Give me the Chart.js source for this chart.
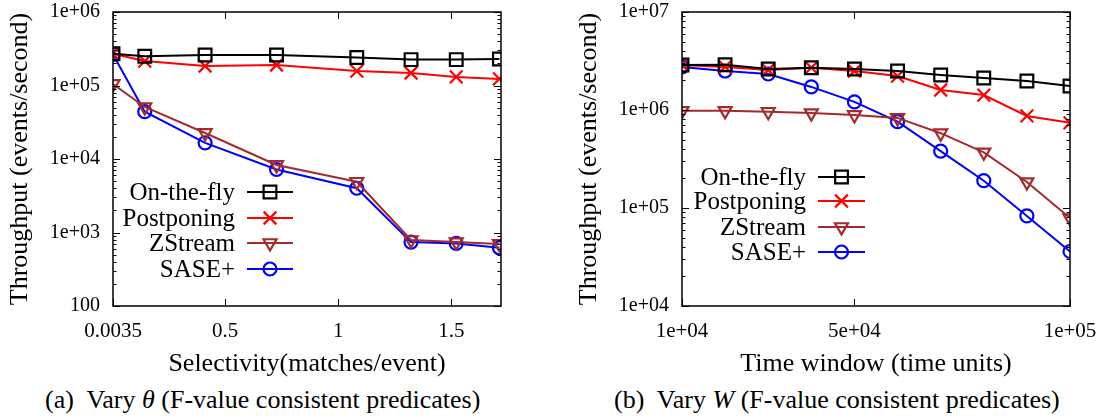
<!DOCTYPE html>
<html>
<head>
<meta charset="utf-8">
<script src="https://cdn.jsdelivr.net/npm/chart.js@4.4.1/dist/chart.umd.min.js"></script>
<style>
  body { margin: 0; background: #fff; width: 1106px; height: 416px; overflow: hidden; position: relative; font-family: "Liberation Serif", "Times New Roman", Times, serif; }
  .box { position: absolute; top: 0; width: 553px; height: 380px; }
  .caption { position: absolute; top: 385px; font-size: 26px; line-height: 30px; white-space: nowrap; color: #000; }
</style>
</head>
<body>
<div class="box" style="left:0"><canvas id="selChart"></canvas></div>
<div class="box" style="left:553px"><canvas id="winChart"></canvas></div>
<div class="caption" style="left:45px">(a)&nbsp; Vary <i>θ</i> (F-value consistent predicates)</div>
<div class="caption" style="left:614px">(b)&nbsp; Vary <i>W</i> (F-value consistent predicates)</div>
<script>
// Series names
const seriesNames = ['On-the-fly', 'Postponing', 'ZStream', 'SASE+'];

// (a) Vary selectivity
const selectivity = [0.0035, 0.144, 0.411, 0.727, 1.082, 1.322, 1.522, 1.713];
const selTicks = [0.0035, 0.5, 1, 1.5];
const selOnTheFly = [2.7e5, 2.5e5, 2.6e5, 2.6e5, 2.4e5, 2.25e5, 2.25e5, 2.3e5];
const selPostponing = [2.7e5, 2.15e5, 1.84e5, 1.9e5, 1.57e5, 1.48e5, 1.31e5, 1.23e5];
const selZStream = [1.05e5, 5.1e4, 2.26e4, 8.3e3, 4.9e3, 790, 740, 700];
const selSase = [2.65e5, 4.4e4, 1.66e4, 7.2e3, 4.0e3, 740, 710, 620];
const selYTicks = [1e2, 1e3, 1e4, 1e5, 1e6];

// (b) Vary time window
const windows = [1e4, 2e4, 3e4, 4e4, 5e4, 6e4, 7e4, 8e4, 9e4, 1e5];
const winTicks = [1e4, 5e4, 1e5];
const winOnTheFly = [2.88e6, 2.9e6, 2.62e6, 2.7e6, 2.62e6, 2.5e6, 2.28e6, 2.12e6, 1.98e6, 1.76e6];
const winPostponing = [2.88e6, 2.75e6, 2.56e6, 2.7e6, 2.5e6, 2.22e6, 1.6e6, 1.42e6, 8.7e5, 7.4e5];
const winZStream = [9.8e5, 9.8e5, 9.6e5, 9.3e5, 8.9e5, 8.3e5, 5.8e5, 3.7e5, 1.84e5, 7.9e4];
const winSase = [2.75e6, 2.5e6, 2.33e6, 1.72e6, 1.21e6, 7.6e5, 3.8e5, 1.9e5, 8.3e4, 3.6e4];
const winYTicks = [1e4, 1e5, 1e6, 1e7];

const FONT = '"Liberation Serif", "Times New Roman", Times, serif';

const styles = [
  { color: '#000000', pointStyle: 'rect', radius: 9, rotation: 0 },
  { color: '#ff0000', pointStyle: 'crossRot', radius: 9, rotation: 0 },
  { color: '#a52a2a', pointStyle: 'triangle', radius: 7.5, rotation: 180 },
  { color: '#0000ff', pointStyle: 'circle', radius: 6.5, rotation: 0 }
];

function sciLabel(v) {
  if (v < 1000) return String(v);
  const exp = Math.floor(Math.log10(v) + 1e-9);
  const mant = Math.round(v / Math.pow(10, exp));
  return mant + 'e+' + String(exp).padStart(2, '0');
}

function makeDatasets(xs, lists) {
  return lists.map((ys, i) => ({
    label: seriesNames[i],
    data: xs.map((x, j) => ({ x: x, y: ys[j] })),
    borderColor: styles[i].color,
    backgroundColor: 'rgba(0,0,0,0)',
    borderWidth: 2,
    pointStyle: styles[i].pointStyle,
    pointRadius: styles[i].radius,
    pointRotation: styles[i].rotation,
    pointBorderWidth: 2.2,
    pointBackgroundColor: 'rgba(0,0,0,0)',
    pointBorderColor: styles[i].color,
    tension: 0,
    fill: false
  }));
}

// frame box with gnuplot-style inward ticks on all four sides
const frameTicks = {
  id: 'frameTicks',
  afterDraw(chart) {
    const { ctx, chartArea: a, scales } = chart;
    ctx.save();
    ctx.strokeStyle = '#000';
    ctx.lineWidth = 1.5;
    ctx.strokeRect(a.left, a.top, a.right - a.left, a.bottom - a.top);
    ctx.lineWidth = 1;
    ctx.beginPath();
    scales.x.ticks.forEach(t => {
      const px = Math.round(scales.x.getPixelForValue(t.value)) + 0.5;
      ctx.moveTo(px, a.bottom); ctx.lineTo(px, a.bottom - 7);
      ctx.moveTo(px, a.top); ctx.lineTo(px, a.top + 7);
    });
    const ys = scales.y;
    for (let e = Math.round(Math.log10(ys.min)); e <= Math.round(Math.log10(ys.max)); e++) {
      for (let m = 1; m <= 9; m++) {
        const v = m * Math.pow(10, e);
        if (v < ys.min || v > ys.max) continue;
        const py = Math.round(ys.getPixelForValue(v)) + 0.5;
        const len = m === 1 ? 7 : 3.5;
        ctx.moveTo(a.left, py); ctx.lineTo(a.left + len, py);
        ctx.moveTo(a.right, py); ctx.lineTo(a.right - len, py);
      }
    }
    ctx.stroke();
    ctx.restore();
  }
};

// legend inside the plot: right-aligned text, sample line with marker to its right
const keyBox = {
  id: 'keyBox',
  afterDatasetsDraw(chart, args, opts) {
    const { ctx, chartArea: a } = chart;
    ctx.save();
    ctx.font = '25px ' + FONT;
    ctx.textAlign = 'right';
    ctx.textBaseline = 'middle';
    chart.data.datasets.forEach((ds, i) => {
      const y = a.top + opts.rows[i];
      ctx.fillStyle = '#000';
      ctx.fillText(ds.label, a.left + opts.textRight, y + 1);
      ctx.strokeStyle = ds.borderColor;
      ctx.lineWidth = 2;
      ctx.beginPath();
      ctx.moveTo(a.left + opts.lineFrom, y);
      ctx.lineTo(a.left + opts.lineTo, y);
      ctx.stroke();
      ctx.fillStyle = 'rgba(0,0,0,0)';
      ctx.lineWidth = 2.2;
      Chart.helpers.drawPoint(ctx, {
        pointStyle: ds.pointStyle, rotation: ds.pointRotation,
        radius: ds.pointRadius, borderWidth: 2.2
      }, a.left + (opts.lineFrom + opts.lineTo) / 2, y);
    });
    ctx.restore();
  }
};

function buildChart(id, xs, lists, xCfg, yTicks, yAxisWidth, rightPad, xTitle, yTitlePad, key) {
  const ctx = document.getElementById(id).getContext('2d');
  return new Chart(ctx, {
    type: 'line',
    data: { datasets: makeDatasets(xs, lists) },
    options: {
      responsive: true,
      maintainAspectRatio: false,
      animation: false,
      layout: { padding: { top: 12, right: rightPad, left: 0, bottom: 0 } },
      plugins: { legend: { display: false }, tooltip: { enabled: false }, keyBox: key },
      scales: {
        x: {
          type: 'linear',
          min: xCfg.min,
          max: xCfg.max,
          afterBuildTicks: s => { s.ticks = xCfg.ticks.map(v => ({ value: v })); },
          afterFit: s => { s.height = 74; s.paddingLeft = 0; s.paddingRight = 0; },
          grid: { display: false, drawTicks: false },
          border: { display: false },
          ticks: {
            autoSkip: false, maxRotation: 0, padding: 13, color: '#000',
            font: { family: FONT, size: 21 },
            callback: v => xCfg.label(v)
          },
          title: {
            display: true, text: xTitle, color: '#000',
            font: { family: FONT, size: 26 },
            padding: { top: 0, bottom: 0 }
          }
        },
        y: {
          type: 'logarithmic',
          min: yTicks[0],
          max: yTicks[yTicks.length - 1],
          afterBuildTicks: s => { s.ticks = yTicks.map(v => ({ value: v })); },
          afterFit: s => { s.width = yAxisWidth; s.paddingTop = 0; s.paddingBottom = 0; },
          grid: { display: false, drawTicks: false },
          border: { display: false },
          ticks: {
            autoSkip: false, padding: 13, color: '#000',
            font: { family: FONT, size: 20 },
            callback: v => sciLabel(v)
          },
          title: {
            display: true, text: 'Throughput (events/second)', color: '#000',
            font: { family: FONT, size: 26 },
            padding: { top: yTitlePad, bottom: 0 }
          }
        }
      }
    },
    plugins: [frameTicks, keyBox]
  });
}

function drawAll() {
  Chart.defaults.font.family = FONT;
  buildChart('selChart', selectivity, [selOnTheFly, selPostponing, selZStream, selSase],
    { min: 0.0035, max: 1.72, ticks: selTicks, label: v => String(v) },
    selYTicks, 113, 52, 'Selectivity(matches/event)', 5,
    { rows: [180, 206, 231, 257], textRight: 122, lineFrom: 134, lineTo: 180 });

  buildChart('winChart', windows, [winOnTheFly, winPostponing, winZStream, winSase],
    { min: 1e4, max: 1e5, ticks: winTicks, label: v => sciLabel(v) },
    winYTicks, 129, 36, 'Time window (time units)', 21,
    { rows: [165, 189, 215, 240], textRight: 124, lineFrom: 136, lineTo: 183 });
}

Promise.all([
  document.fonts.load('20px "Liberation Serif"'),
  document.fonts.load('italic 20px "Liberation Serif"')
]).then(drawAll, drawAll);
</script>
</body>
</html>
